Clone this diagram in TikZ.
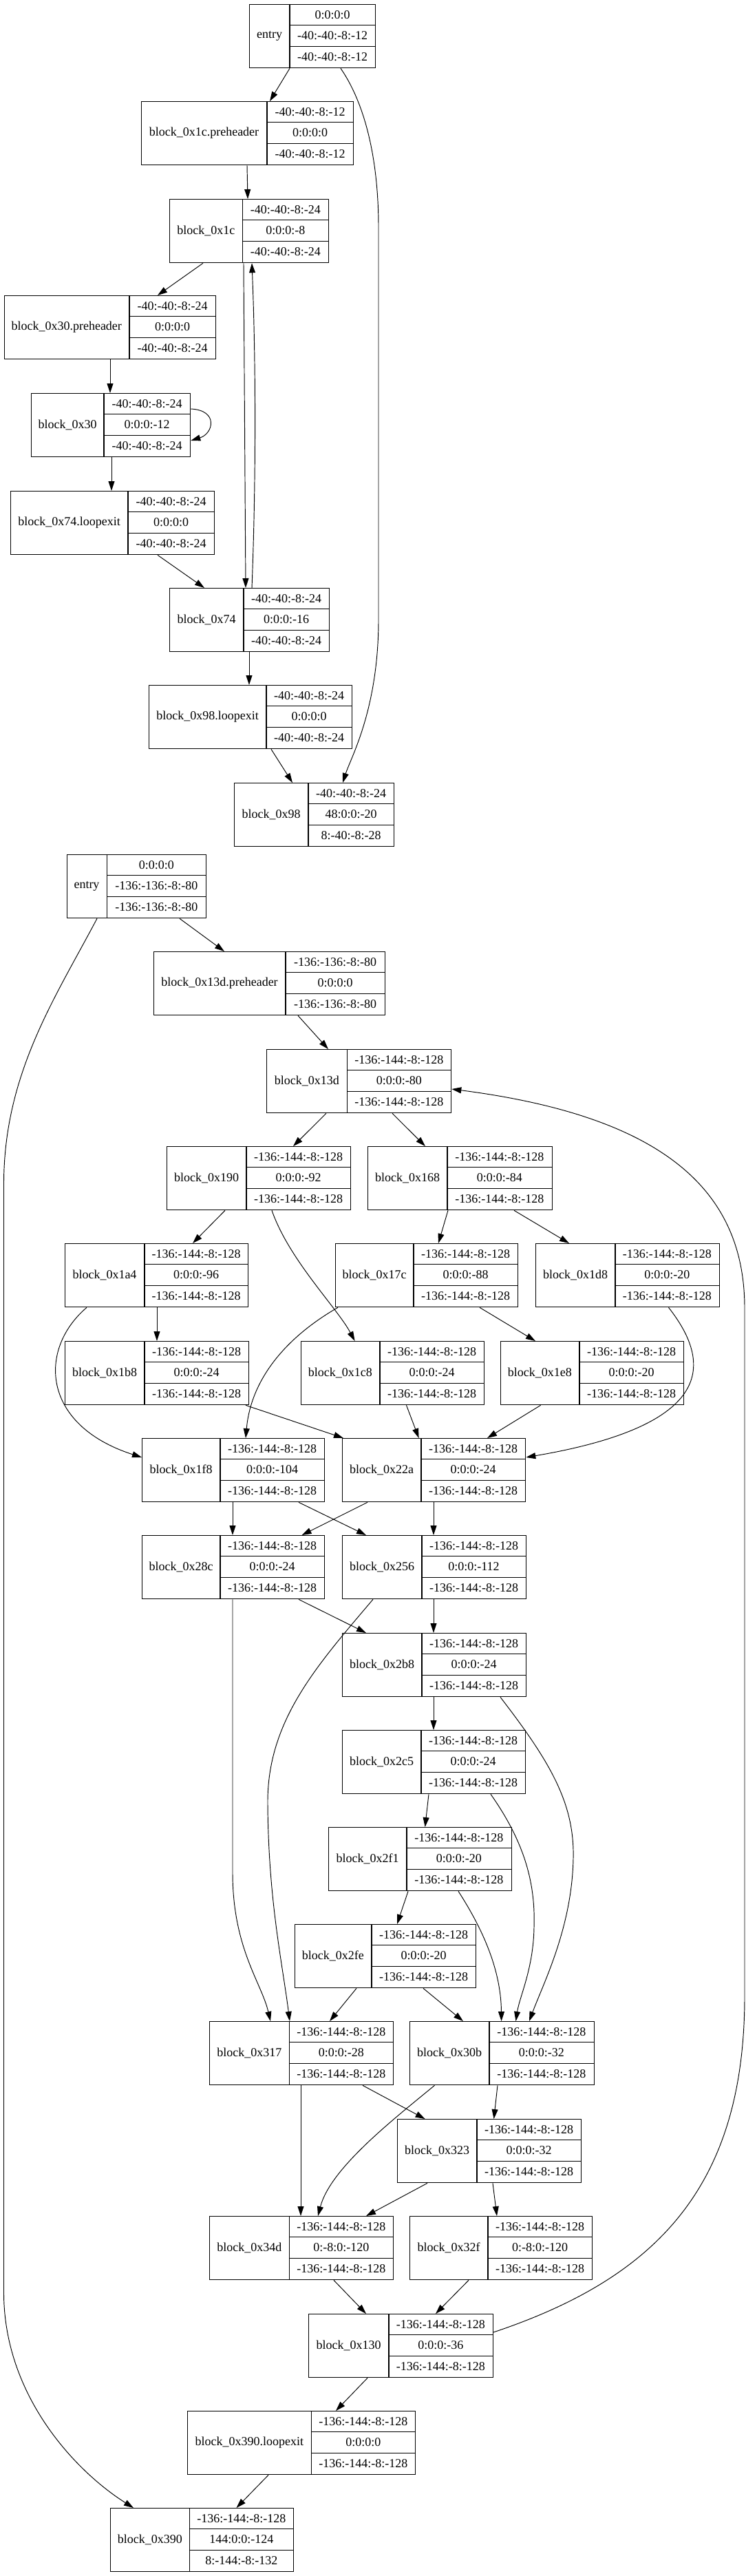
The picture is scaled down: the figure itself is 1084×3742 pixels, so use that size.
\documentclass[tikz,border=0pt]{standalone}
\usepackage{fontspec}
\setmainfont{Liberation Serif}
\usetikzlibrary{arrows.meta}
\tikzset{
  blockbox/.style={draw, line width=1.3pt, minimum height=92pt, inner sep=0pt, fill=white},
  divline/.style={line width=1.3pt},
  txt/.style={inner sep=0pt, font=\fontsize{18}{20}\selectfont},
  edge/.style={line width=0.95pt, -{Triangle[length=14pt,width=9pt]}},
}
\newcommand\blk[9]{%
  \node[blockbox, minimum width={#4-#2}, anchor=north west] (#1) at (#2,#5) {};
  \draw[divline] (#3,#5) -- (#3,{#5+92});
  \draw[divline] (#3,{#5+30.67}) -- (#4,{#5+30.67});
  \draw[divline] (#3,{#5+61.33}) -- (#4,{#5+61.33});
  \node[txt] (#1-l) at ({(#2+#3)/2},{#5+46}) {#6};
  \node[txt] (#1-a) at ({(#3+#4)/2},{#5+15.33}) {#7};
  \node[txt] (#1-b) at ({(#3+#4)/2},{#5+46}) {#8};
  \node[txt] (#1-c) at ({(#3+#4)/2},{#5+76.67}) {#9};
}
\def\SV{-136:-144:-8:-128}
\begin{document}
\begin{tikzpicture}[x=1pt,y=-1pt]
\fill[white] (0,0) rectangle (1084,3742);
\useasboundingbox (0,0) rectangle (1084,3742);
% ---------- graph 1 ----------
\blk{entryA}{362}{421}{545}{6}{entry}{0:0:0:0}{-40:-40:-8:-12}{-40:-40:-8:-12}
\blk{pre1c}{205}{388}{513}{147}{block\_0x1c.preheader}{-40:-40:-8:-12}{0:0:0:0}{-40:-40:-8:-12}
\blk{b1c}{246}{352.5}{477}{289}{block\_0x1c}{-40:-40:-8:-24}{0:0:0:-8}{-40:-40:-8:-24}
\blk{pre30}{5.5}{188}{313}{429}{block\_0x30.preheader}{-40:-40:-8:-24}{0:0:0:0}{-40:-40:-8:-24}
\blk{b30}{45}{151}{276}{571}{block\_0x30}{-40:-40:-8:-24}{0:0:0:-12}{-40:-40:-8:-24}
\blk{le74}{15}{186}{311}{713}{block\_0x74.loopexit}{-40:-40:-8:-24}{0:0:0:0}{-40:-40:-8:-24}
\blk{b74}{246}{354}{478}{854}{block\_0x74}{-40:-40:-8:-24}{0:0:0:-16}{-40:-40:-8:-24}
\blk{le98}{216}{387}{511}{995}{block\_0x98.loopexit}{-40:-40:-8:-24}{0:0:0:0}{-40:-40:-8:-24}
\blk{b98}{340}{448}{572}{1137}{block\_0x98}{-40:-40:-8:-24}{48:0:0:-20}{8:-40:-8:-28}
% ---------- graph 2 ----------
\blk{entryB}{96.5}{155.5}{299}{1241}{entry}{0:0:0:0}{-136:-136:-8:-80}{-136:-136:-8:-80}
\blk{pre13d}{223}{415}{559}{1382}{block\_0x13d.preheader}{-136:-136:-8:-80}{0:0:0:0}{-136:-136:-8:-80}
\blk{b13d}{387}{504.5}{655}{1524}{block\_0x13d}{\SV}{0:0:0:-80}{\SV}
\blk{b190}{242}{358}{509}{1665}{block\_0x190}{\SV}{0:0:0:-92}{\SV}
\blk{b168}{534}{650}{801.5}{1665}{block\_0x168}{\SV}{0:0:0:-84}{\SV}
\blk{b1a4}{94}{210}{360}{1806}{block\_0x1a4}{\SV}{0:0:0:-96}{\SV}
\blk{b17c}{487}{601}{752}{1806}{block\_0x17c}{\SV}{0:0:0:-88}{\SV}
\blk{b1d8}{778}{894}{1044.5}{1806}{block\_0x1d8}{\SV}{0:0:0:-20}{\SV}
\blk{b1b8}{94}{210}{361}{1948}{block\_0x1b8}{\SV}{0:0:0:-24}{\SV}
\blk{b1c8}{436.5}{552}{703}{1948}{block\_0x1c8}{\SV}{0:0:0:-24}{\SV}
\blk{b1e8}{726.5}{842}{993}{1948}{block\_0x1e8}{\SV}{0:0:0:-20}{\SV}
\blk{b1f8}{206}{320}{471}{2089}{block\_0x1f8}{\SV}{0:0:0:-104}{\SV}
\blk{b22a}{497}{612}{763}{2089}{block\_0x22a}{\SV}{0:0:0:-24}{\SV}
\blk{b28c}{206}{320}{471}{2230}{block\_0x28c}{\SV}{0:0:0:-24}{\SV}
\blk{b256}{497}{613}{764}{2230}{block\_0x256}{\SV}{0:0:0:-112}{\SV}
\blk{b2b8}{497}{613}{764}{2372}{block\_0x2b8}{\SV}{0:0:0:-24}{\SV}
\blk{b2c5}{497}{612}{763}{2513}{block\_0x2c5}{\SV}{0:0:0:-24}{\SV}
\blk{b2f1}{477}{591}{742.5}{2654}{block\_0x2f1}{\SV}{0:0:0:-20}{\SV}
\blk{b2fe}{427.5}{540}{691}{2795}{block\_0x2fe}{\SV}{0:0:0:-20}{\SV}
\blk{b317}{304}{420.5}{571}{2936}{block\_0x317}{\SV}{0:0:0:-28}{\SV}
\blk{b30b}{595}{711}{862.5}{2936}{block\_0x30b}{\SV}{0:0:0:-32}{\SV}
\blk{b323}{577}{693}{844}{3078}{block\_0x323}{\SV}{0:0:0:-32}{\SV}
\blk{b34d}{304}{420.5}{571}{3219}{block\_0x34d}{\SV}{0:-8:0:-120}{\SV}
\blk{b32f}{595}{709}{860}{3219}{block\_0x32f}{\SV}{0:-8:0:-120}{\SV}
\blk{b130}{448}{565}{715.5}{3361}{block\_0x130}{\SV}{0:0:0:-36}{\SV}
\blk{le390}{272}{452.5}{603}{3502}{block\_0x390.loopexit}{\SV}{0:0:0:0}{\SV}
\blk{b390}{160}{275.5}{426}{3643}{block\_0x390}{\SV}{144:0:0:-124}{8:-144:-8:-132}
% ---------- edges graph 1 ----------
\draw[edge] (421,0 |- entryA.south) -- (392,0 |- pre1c.north);
\draw[edge] (495,0 |- entryA.south) .. controls (530,150) and (550,230) .. (550,330) -- (550,900) .. controls (550,1030) and (510,1100) .. (498,0 |- b98.north);
\draw[edge] (359,0 |- pre1c.south) -- (360,0 |- b1c.north);
\draw[edge] (295,0 |- b1c.south) -- (229,0 |- pre30.north);
\draw[edge] (354,0 |- b1c.south) -- (357,0 |- b74.north);
\draw[edge] (366,0 |- b74.north) .. controls (372,700) and (372,530) .. (366,0 |- b1c.south);
\draw[edge] (160,0 |- pre30.south) -- (160,0 |- b30.north);
\draw[edge] (0,594 -| b30.east) .. controls (318,596) and (310,630) .. (0,640 -| b30.east);
\draw[edge] (162,0 |- b30.south) -- (162,0 |- le74.north);
\draw[edge] (229,0 |- le74.south) -- (297,0 |- b74.north);
\draw[edge] (362,0 |- b74.south) -- (362,0 |- le98.north);
\draw[edge] (394,0 |- le98.south) -- (425,0 |- b98.north);
% ---------- edges graph 2 ----------
\draw[edge] (261,0 |- entryB.south) -- (326,0 |- pre13d.north);
\draw[edge] (141,0 |- entryB.south) .. controls (80,1450) and (5.5,1560) .. (5.5,1720) -- (5.5,3330) .. controls (5.5,3480) and (110,3590) .. (194,0 |- b390.north);
\draw[edge] (433,0 |- pre13d.south) -- (477,0 |- b13d.north);
\draw[edge] (474,0 |- b13d.south) -- (426,0 |- b190.north);
\draw[edge] (570,0 |- b13d.south) -- (618,0 |- b168.north);
\draw[edge] (0,3388 -| b130.east) .. controls (950,3310) and (1082,3180) .. (1082,2900) -- (1082,1900) .. controls (1082,1720) and (950,1620) .. (0,1582 -| b13d.east);
\draw[edge] (327,0 |- b190.south) -- (280,0 |- b1a4.north);
\draw[edge] (395,0 |- b190.south) .. controls (420,1830) and (490,1900) .. (515.6,0 |- b1c8.north);
\draw[edge] (651,0 |- b168.south) -- (637,0 |- b17c.north);
\draw[edge] (747,0 |- b168.south) -- (827,0 |- b1d8.north);
\draw[edge] (228,0 |- b1a4.south) -- (228,0 |- b1b8.north);
\draw[edge] (126,0 |- b1a4.south) .. controls (55,1960) and (60,2070) .. (0,2117 -| b1f8.west);
\draw[edge] (491,0 |- b17c.south) .. controls (420,1940) and (365,2000) .. (357,0 |- b1f8.north);
\draw[edge] (697,0 |- b17c.south) -- (778,0 |- b1e8.north);
\draw[edge] (971.5,0 |- b1d8.south) .. controls (1035,1980) and (1040,2070) .. (0,2117 -| b22a.east);
\draw[edge] (357,0 |- b1b8.south) -- (499,0 |- b22a.north);
\draw[edge] (590.5,0 |- b1c8.south) -- (608.6,0 |- b22a.north);
\draw[edge] (785.6,0 |- b1e8.south) -- (708,0 |- b22a.north);
\draw[edge] (338,0 |- b1f8.south) -- (338,0 |- b28c.north);
\draw[edge] (434,0 |- b1f8.south) -- (532,0 |- b256.north);
\draw[edge] (534,0 |- b22a.south) -- (438.6,0 |- b28c.north);
\draw[edge] (630,0 |- b22a.south) -- (630,0 |- b256.north);
\draw[edge] (434,0 |- b28c.south) -- (532,0 |- b2b8.north);
\draw[edge] (338,0 |- b28c.south) -- (338,2720) .. controls (338,2830) and (380,2880) .. (393,0 |- b317.north);
\draw[edge] (542,0 |- b256.south) .. controls (460,2420) and (388,2500) .. (389,2620) .. controls (390,2760) and (410,2850) .. (421,0 |- b317.north);
\draw[edge] (630,0 |- b256.south) -- (630,0 |- b2b8.north);
\draw[edge] (630,0 |- b2b8.south) -- (630,0 |- b2c5.north);
\draw[edge] (727,0 |- b2b8.south) .. controls (800,2560) and (835,2620) .. (833,2700) .. controls (831,2800) and (790,2880) .. (769,0 |- b30b.north);
\draw[edge] (623,0 |- b2c5.south) -- (617.6,0 |- b2f1.north);
\draw[edge] (713,0 |- b2c5.south) .. controls (765,2680) and (778,2740) .. (776,2800) .. controls (775,2860) and (755,2900) .. (749.5,0 |- b30b.north);
\draw[edge] (593,0 |- b2f1.south) -- (577,0 |- b2fe.north);
\draw[edge] (666,0 |- b2f1.south) .. controls (700,2800) and (728,2860) .. (728.6,0 |- b30b.north);
\draw[edge] (518,0 |- b2fe.south) -- (479,0 |- b317.north);
\draw[edge] (615,0 |- b2fe.south) -- (673,0 |- b30b.north);
\draw[edge] (437,0 |- b317.south) -- (437,0 |- b34d.north);
\draw[edge] (527,0 |- b317.south) -- (617.6,0 |- b323.north);
\draw[edge] (631.5,0 |- b30b.south) .. controls (570,3080) and (480,3150) .. (462,0 |- b34d.north);
\draw[edge] (723,0 |- b30b.south) -- (717.6,0 |- b323.north);
\draw[edge] (621,0 |- b323.south) -- (532,0 |- b34d.north);
\draw[edge] (716,0 |- b323.south) -- (722,0 |- b32f.north);
\draw[edge] (485,0 |- b34d.south) -- (532,0 |- b130.north);
\draw[edge] (681,0 |- b32f.south) -- (633,0 |- b130.north);
\draw[edge] (534,0 |- b130.south) -- (488,0 |- le390.north);
\draw[edge] (390,0 |- le390.south) -- (343.5,0 |- b390.north);
\end{tikzpicture}
\end{document}
